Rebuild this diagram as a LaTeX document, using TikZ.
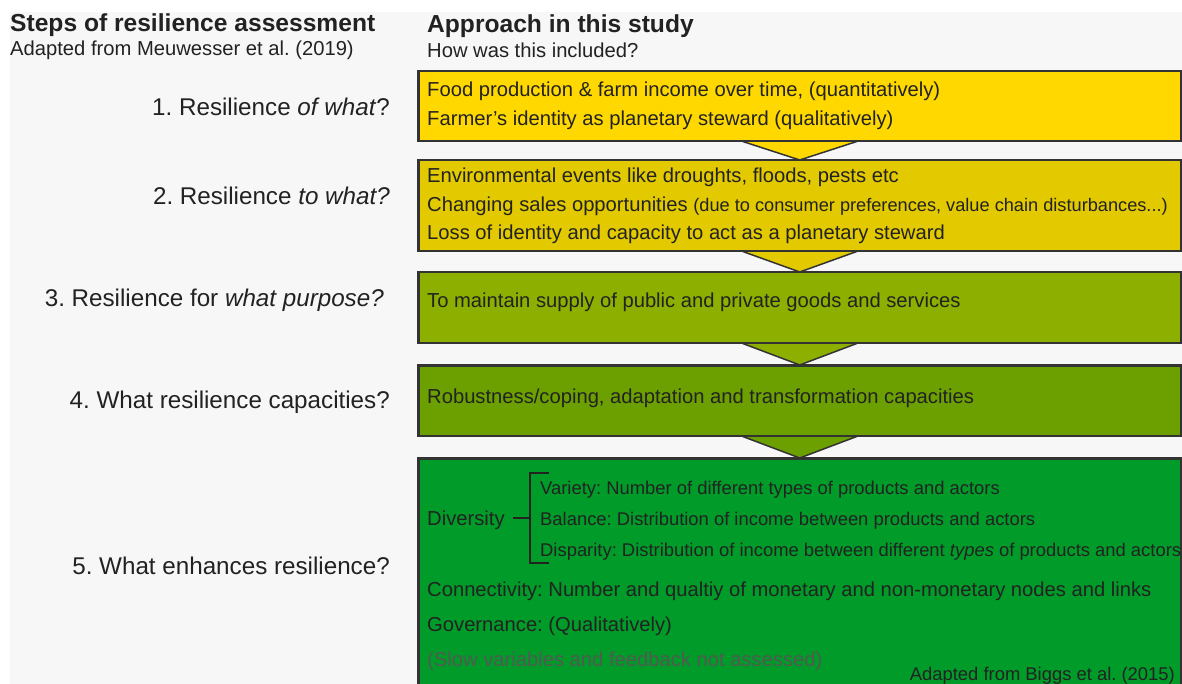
\documentclass[tikz,border=0pt]{standalone}
\usepackage{fontspec}
\setmainfont{Liberation Sans}
\frenchspacing
\definecolor{bgc}{HTML}{F7F7F7}
\definecolor{txt}{HTML}{222222}
\definecolor{edge}{HTML}{333333}
\definecolor{c1}{HTML}{FFD800}
\definecolor{c2}{HTML}{E2C900}
\definecolor{c3}{HTML}{8DB000}
\definecolor{c4}{HTML}{6CA000}
\definecolor{c5}{HTML}{009B28}
\definecolor{faint}{HTML}{525A52}
\tikzset{
  stepbox/.style={draw=edge, line width=1.5pt, rectangle, anchor=north west, minimum width=762pt, inner sep=0pt},
  boxtext/.style={anchor=base west, inner sep=0pt, text=txt, font=\fontsize{20.2}{22}\selectfont},
  smalltext/.style={anchor=base west, inner sep=0pt, text=txt, font=\fontsize{18.4}{20}\selectfont},
  leftlab/.style={anchor=base east, inner sep=0pt, text=txt, font=\fontsize{24.2}{26}\selectfont},
  headtitle/.style={anchor=base west, inner sep=0pt, text=txt, font=\fontsize{24.6}{26}\bfseries\selectfont},
  headsub/.style={anchor=base west, inner sep=0pt, text=txt, font=\fontsize{20.2}{22}\selectfont},
}
\begin{document}
\begin{tikzpicture}[x=1pt,y=-1pt]
\useasboundingbox (0,0) rectangle (1182,684);
\clip (0,0) rectangle (1182,684);
\fill[white] (0,0) rectangle (1182,684);
\fill[bgc] (10,12) rectangle (1182,684);

% headers
\node[headtitle] (h1) at (10,32) {Steps of resilience assessment};
\node[headsub] (h2) at (10,56) {Adapted from Meuwesser et al. (2019)};
\node[headtitle] (h3) at (427,33) {Approach in this study};
\node[headsub] (h4) at (427,58) {How was this included?};

% boxes
\node[stepbox, fill=c1, minimum height=69pt] (b1) at (418,71) {};
\node[stepbox, fill=c2, minimum height=90pt] (b2) at (418,160) {};
\node[stepbox, fill=c3, minimum height=70pt] (b3) at (418,272) {};
\node[stepbox, fill=c4, minimum height=70pt] (b4) at (418,365) {};
\node[stepbox, fill=c5, minimum height=260pt] (b5) at (418,458) {};

% chevrons between boxes
\foreach \u/\d/\c in {b1/b2/c1, b2/b3/c2, b3/b4/c3, b4/b5/c4}{
  \fill[\c] ([xshift=-57pt]\u.south) -- (\u.south |- \d.north) -- ([xshift=57pt]\u.south) -- cycle;
  \draw[edge, line width=1.5pt, line join=miter] ([xshift=-57pt]\u.south) -- (\u.south |- \d.north) -- ([xshift=57pt]\u.south);
}
% redraw box outlines on top
\foreach \b in {b1,b2,b3,b4,b5}{
  \draw[edge, line width=1.5pt] (\b.north west) rectangle (\b.south east);
}

% left labels
\node[leftlab] (l1) at (390,116) {1. Resilience \textit{of what}?};
\node[leftlab] (l2) at (390,205) {2. Resilience \textit{to what?}};
\node[leftlab] (l3) at (384,306) {3. Resilience for \textit{what purpose?}};
\node[leftlab] (l4) at (390,408) {4. What resilience capacities?};
\node[leftlab] (l5) at (390,574) {5. What enhances resilience?};

% box 1
\node[boxtext] (t11) at (427,97) {Food production \& farm income over time, (quantitatively)};
\node[boxtext] (t12) at (427,126) {Farmer’s identity as planetary steward (qualitatively)};
% box 2
\node[boxtext] (t21) at (427,183) {Environmental events like droughts, floods, pests etc};
\node[boxtext] (t22) at (427,212) {Changing sales opportunities {\fontsize{18.2}{20}\selectfont(due to consumer preferences, value chain disturbances...)}};
\node[boxtext] (t23) at (427,240) {Loss of identity and capacity to act as a planetary steward};
% box 3
\node[boxtext] (t31) at (427,308) {To maintain supply of public and private goods and services};
% box 4
\node[boxtext] (t41) at (427,403) {Robustness/coping, adaptation and transformation capacities};
% box 5
\node[boxtext] (div) at (427,525) {Diversity};
\node[smalltext] (v1) at (540,494) {Variety: Number of different types of products and actors};
\node[smalltext] (v2) at (540,525) {Balance: Distribution of income between products and actors};
\node[smalltext] (v3) at (540,556) {Disparity: Distribution of income between different \textit{types} of products and actors};
\coordinate (brT) at (549,473);
\coordinate (brB) at (549,563);
\draw[txt, line width=1.2pt] (brT) -- (530,473) -- (530,563) -- (brB);
\draw[txt, line width=1.2pt] (513,518) -- (530,518);
\node[boxtext] (t52) at (427,596) {Connectivity: Number and qualtiy of monetary and non-monetary nodes and links};
\node[boxtext] (t53) at (427,631) {Governance: (Qualitatively)};
\node[boxtext, text=faint] (t54) at (427,666) {(Slow variables and feedback not assessed)};
\node[smalltext, anchor=base east] (t55) at (1175,680) {Adapted from Biggs et al. (2015)};
\end{tikzpicture}
\end{document}
